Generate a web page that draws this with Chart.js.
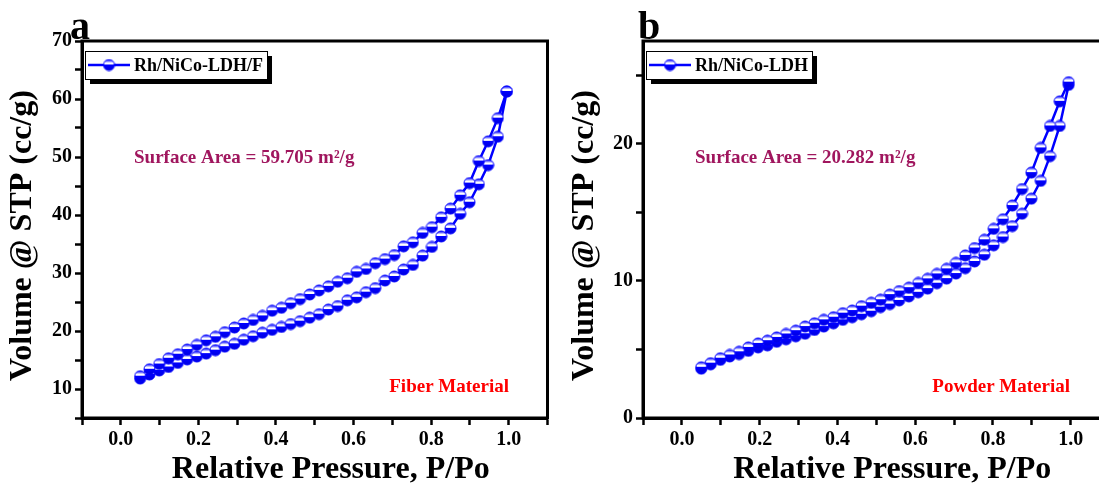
<!DOCTYPE html>
<html>
<head>
<meta charset="utf-8">
<script src="https://cdn.jsdelivr.net/npm/chart.js@4.4.0/dist/chart.umd.min.js"></script>
<style>
html, body { margin: 0; padding: 0; background: #fff; overflow: hidden; width: 1099px; height: 487px; }
#fiberChart { position: absolute; left: 0; top: 0; }
#powderChart { position: absolute; left: 550px; top: 0; }
</style>
</head>
<body>
<canvas id="fiberChart" width="556" height="487"></canvas>
<canvas id="powderChart" width="568" height="487"></canvas>
<script>
// relative pressure P/Po (same points for adsorption and desorption)
const pressure = [0.05, 0.074, 0.099, 0.123, 0.147, 0.171, 0.196, 0.22, 0.244, 0.268,
                  0.293, 0.317, 0.341, 0.365, 0.39, 0.414, 0.438, 0.462, 0.487, 0.511,
                  0.535, 0.559, 0.584, 0.608, 0.632, 0.656, 0.681, 0.705, 0.729, 0.753,
                  0.778, 0.802, 0.826, 0.85, 0.875, 0.899, 0.923, 0.947, 0.972, 0.995];

// Rh/NiCo-LDH/F (fiber)
const fiberAds = [11.8, 12.5, 13.2, 13.8, 14.5, 15.1, 15.6, 16.1, 16.7, 17.3,
                  17.8, 18.5, 19.1, 19.7, 20.2, 20.7, 21.2, 21.7, 22.3, 22.9,
                  23.7, 24.3, 25.3, 25.8, 26.7, 27.4, 28.7, 29.4, 30.6, 31.4,
                  33.0, 34.5, 36.3, 37.7, 40.2, 42.2, 45.3, 48.6, 53.5, 61.3];
const fiberDes = [12.2, 13.4, 14.3, 15.3, 16.0, 16.8, 17.6, 18.4, 19.0, 19.8,
                  20.6, 21.3, 21.9, 22.6, 23.5, 24.0, 24.8, 25.5, 26.3, 27.0,
                  27.7, 28.5, 29.1, 30.2, 30.7, 31.7, 32.4, 33.1, 34.6, 35.3,
                  36.9, 37.9, 39.6, 41.1, 43.4, 45.5, 49.3, 52.7, 56.7, 61.3];

// Rh/NiCo-LDH (powder)
const powderAds = [3.6, 3.92, 4.24, 4.49, 4.66, 4.9, 5.15, 5.3, 5.56, 5.74,
                   5.96, 6.15, 6.42, 6.67, 6.91, 7.16, 7.35, 7.57, 7.79, 8.09,
                   8.31, 8.58, 8.87, 9.17, 9.44, 9.83, 10.17, 10.54, 10.93, 11.42,
                   11.91, 12.6, 13.2, 14.0, 14.9, 16.0, 17.3, 19.1, 21.3, 24.3];
const powderDes = [3.7, 4.0, 4.36, 4.6, 4.83, 5.15, 5.44, 5.64, 5.88, 6.13,
                   6.37, 6.67, 6.91, 7.16, 7.35, 7.65, 7.84, 8.16, 8.41, 8.63,
                   9.0, 9.26, 9.51, 9.85, 10.15, 10.51, 10.88, 11.32, 11.86, 12.4,
                   13.0, 13.8, 14.5, 15.5, 16.7, 17.9, 19.7, 21.3, 23.1, 24.5];

// labelled ticks
const xTickLabels = [0, 0.2, 0.4, 0.6, 0.8, 1.0];
const fiberYTickLabels = [10, 20, 30, 40, 50, 60, 70];
const powderYTickLabels = [0, 10, 20];

const FONT = "'Liberation Serif', 'Times New Roman', serif";

// blue ball marker with a white band on the upper half
function makeBall(r) {
    const c = document.createElement('canvas');
    const s = Math.ceil(r * 2 + 2);
    c.width = s; c.height = s;
    const g = c.getContext('2d');
    const cx = s / 2, cy = s / 2;
    const grad = g.createLinearGradient(0, cy - r, 0, cy + r);
    grad.addColorStop(0, '#1010ff');
    grad.addColorStop(0.16, '#7070ff');
    grad.addColorStop(0.3, '#ffffff');
    grad.addColorStop(0.46, '#ffffff');
    grad.addColorStop(0.5, '#0000ff');
    grad.addColorStop(1, '#0000dd');
    g.beginPath();
    g.arc(cx, cy, r, 0, Math.PI * 2);
    g.fillStyle = grad;
    g.fill();
    g.lineWidth = 1;
    g.strokeStyle = '#0000ff';
    g.stroke();
    return c;
}
const ball = makeBall(5.5);

function hasLabel(list, v) {
    return list.some(t => Math.abs(t - v) < 1e-6);
}

// frame, panel letter, legend box, annotations and axis titles
const panelPlugin = {
    id: 'panel',
    afterDraw(chart) {
        const o = chart.options.plugins.panel;
        const a = chart.chartArea;
        const ctx = chart.ctx;
        ctx.save();

        ctx.strokeStyle = '#000';
        ctx.lineWidth = 3;
        ctx.strokeRect(a.left, a.top, a.right - a.left, a.bottom - a.top);

        ctx.fillStyle = '#000';
        ctx.font = 'bold 40px ' + FONT;
        ctx.textBaseline = 'alphabetic';
        ctx.textAlign = 'left';
        ctx.fillText(o.letter, o.letterX, 39);

        // legend
        ctx.font = 'bold 18px ' + FONT;
        const tw = ctx.measureText(o.label).width;
        const bx = a.left + 3, by = a.top + 10, bw = 49 + tw + 4, bh = 28;
        ctx.fillStyle = '#000';
        ctx.fillRect(bx + 5, by + 5, bw, bh);
        ctx.fillStyle = '#fff';
        ctx.fillRect(bx, by, bw, bh);
        ctx.lineWidth = 1;
        ctx.strokeStyle = '#000';
        ctx.strokeRect(bx + 0.5, by + 0.5, bw, bh);
        ctx.strokeStyle = '#0000ff';
        ctx.lineWidth = 2.5;
        ctx.beginPath();
        ctx.moveTo(bx + 3, by + bh / 2);
        ctx.lineTo(bx + 45, by + bh / 2);
        ctx.stroke();
        ctx.drawImage(ball, bx + 24 - ball.width / 2, by + bh / 2 - ball.height / 2);
        ctx.fillStyle = '#000';
        ctx.textBaseline = 'middle';
        ctx.fillText(o.label, bx + 49, by + bh / 2 + 1);

        // annotations
        ctx.font = 'bold 19px ' + FONT;
        ctx.fillStyle = '#a0165e';
        ctx.fillText(o.area, a.left + 52, a.top + 117);
        ctx.fillStyle = '#ff0000';
        ctx.textAlign = 'right';
        ctx.fillText(o.material, a.left + 427, a.top + 346);

        // axis titles
        ctx.fillStyle = '#000';
        ctx.font = 'bold 32px ' + FONT;
        ctx.textAlign = 'center';
        ctx.textBaseline = 'alphabetic';
        ctx.fillText('Relative Pressure, P/Po', (a.left + a.right) / 2 + 16, 478);
        ctx.translate(o.yTitleX, (a.top + a.bottom) / 2 + 6);
        ctx.rotate(-Math.PI / 2);
        ctx.textBaseline = 'middle';
        ctx.fillText('Volume @ STP (cc/g)', 0, 0);
        ctx.restore();
    }
};

function makeChart(id, ads, des, o) {
    // adsorption going up, then desorption coming back down
    const pts = ads.map((v, i) => ({ x: pressure[i], y: v }));
    for (let i = des.length - 1; i >= 0; i--) {
        pts.push({ x: pressure[i], y: des[i] });
    }
    const tickFont = { family: FONT, weight: 'bold', size: 20 };
    return new Chart(document.getElementById(id), {
        type: 'scatter',
        data: {
            datasets: [{
                label: o.label,
                data: pts,
                showLine: true,
                borderColor: '#0000ff',
                borderWidth: 2.5,
                pointStyle: ball,
                pointRadius: 6,
                pointHoverRadius: 6
            }]
        },
        options: {
            responsive: false,
            animation: false,
            events: [],
            layout: { padding: { top: 41, right: 3, left: 0, bottom: 0 } },
            plugins: {
                legend: { display: false },
                tooltip: { enabled: false },
                panel: o
            },
            scales: {
                x: {
                    type: 'linear',
                    min: -0.1,
                    max: 1.1,
                    afterFit: s => { s.height = 69; },
                    ticks: {
                        stepSize: 0.1,
                        autoSkip: false,
                        maxRotation: 0,
                        padding: 3,
                        color: '#000',
                        font: tickFont,
                        callback: v => hasLabel(xTickLabels, v) ? v.toFixed(1) : ''
                    },
                    grid: { drawOnChartArea: false, tickLength: 7, tickWidth: 2.5, tickColor: '#000' },
                    border: { display: true, width: 3, color: '#000' }
                },
                y: {
                    min: o.yMin,
                    max: o.yMax,
                    afterFit: s => { s.width = o.yAxisWidth; },
                    ticks: {
                        stepSize: 5,
                        includeBounds: false,
                        autoSkip: false,
                        padding: 3,
                        color: '#000',
                        font: tickFont,
                        callback: v => hasLabel(o.yLabels, v) ? String(v) : ''
                    },
                    grid: { drawOnChartArea: false, tickLength: 7, tickWidth: 2.5, tickColor: '#000' },
                    border: { display: true, width: 3, color: '#000' }
                }
            }
        },
        plugins: [panelPlugin]
    });
}

makeChart('fiberChart', fiberAds, fiberDes, {
    label: 'Rh/NiCo-LDH/F',
    letter: 'a',
    letterX: 70,
    area: 'Surface Area = 59.705 m\u00b2/g',
    material: 'Fiber Material',
    yMin: 5,
    yMax: 70,
    yLabels: fiberYTickLabels,
    yAxisWidth: 82,
    yTitleX: 23
});

makeChart('powderChart', powderAds, powderDes, {
    label: 'Rh/NiCo-LDH',
    letter: 'b',
    letterX: 88,
    area: 'Surface Area = 20.282 m\u00b2/g',
    material: 'Powder Material',
    yMin: 0,
    yMax: 27.5,
    yLabels: powderYTickLabels,
    yAxisWidth: 93,
    yTitleX: 35
});
</script>
</body>
</html>
